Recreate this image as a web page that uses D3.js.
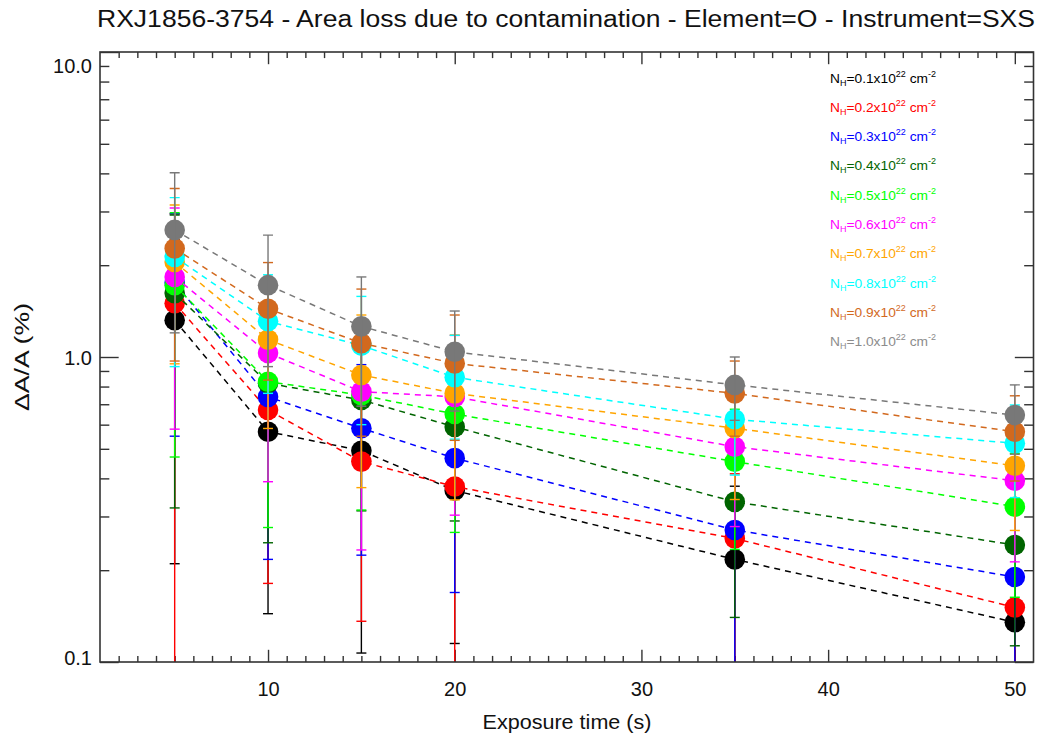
<!DOCTYPE html>
<html>
<head>
<meta charset="utf-8">
<script src="https://cdn.jsdelivr.net/npm/d3@7"></script>
<style>
    body { margin: 0; background: #fff; }
    svg { display: block; font-family: "Liberation Sans", Arial, Helvetica, sans-serif; }
</style>
</head>
<body>
<div class="c-chart"></div>
<script>
// exposure times (s)
var times = [5, 10, 15, 20, 35, 50];

// column densities, in units of 1e22 cm^-2
var nhValues = ["0.1", "0.2", "0.3", "0.4", "0.5", "0.6", "0.7", "0.8", "0.9", "1.0"];

// area loss dA/A (%), one array per N_H
var loss01 = [1.32, 0.569, 0.493, 0.365, 0.217, 0.135];
var loss02 = [1.50, 0.67, 0.454, 0.376, 0.254, 0.151];
var loss03 = [1.75, 0.74, 0.584, 0.466, 0.271, 0.19];
var loss04 = [1.62, 0.82, 0.723, 0.59, 0.335, 0.242];
var loss05 = [1.72, 0.83, 0.75, 0.65, 0.454, 0.323];
var loss06 = [1.83, 1.03, 0.77, 0.74, 0.508, 0.393];
var loss07 = [2.05, 1.14, 0.873, 0.76, 0.584, 0.44];
var loss08 = [2.13, 1.31, 1.09, 0.858, 0.625, 0.521];
var loss09 = [2.27, 1.44, 1.11, 0.953, 0.76, 0.569];
var loss10 = [2.61, 1.72, 1.26, 1.04, 0.81, 0.645];

// 1-sigma errors on the same points
var err01 = [1.11, 0.425, 0.386, 0.25, 0.16, 0.1];
var err02 = [1.45, 0.489, 0.318, 0.30, 0.16, 0.1];
var err03 = [1.2, 0.523, 0.36, 0.297, 0.19, 0.12];
var err04 = [1.30, 0.574, 0.41, 0.30, 0.195, 0.129];
var err05 = [1.25, 0.554, 0.435, 0.384, 0.22, 0.16];
var err06 = [1.25, 0.64, 0.537, 0.437, 0.23, 0.18];
var err07 = [1.1, 0.557, 0.5, 0.42, 0.243, 0.17];
var err08 = [1.2, 0.55, 0.49, 0.32, 0.215, 0.175];
var err09 = [1.30, 0.60, 0.56, 0.42, 0.21, 0.177];
var err10 = [1.41, 0.79, 0.57, 0.375, 0.19, 0.165];

var lossRows = [loss01, loss02, loss03, loss04, loss05, loss06, loss07, loss08, loss09, loss10];
var errRows = [err01, err02, err03, err04, err05, err06, err07, err08, err09, err10];

var colors = ["#000000", "#ff0000", "#0000ff", "#006400", "#00ff00",
              "#ff00ff", "#ffa500", "#00ffff", "#d2691e", "#787878"];

var titleText = "RXJ1856-3754 - Area loss due to contamination - Element=O - Instrument=SXS";
var xAxisLabel = "Exposure time (s)";
var yAxisLabel = "\u0394A/A (%)";

var width = 1038, height = 736;
var margin = { top: 52, right: 4.5, bottom: 74, left: 100 };
var x0 = margin.left, x1 = width - margin.right;
var y0 = margin.top, y1 = height - margin.bottom;

var xScale = d3.scaleLinear().domain([1, 51]).range([x0, x1]);
var yScale = d3.scaleLog().domain([0.1, 10]).range([y1, y0]);

var svg = d3.select(".c-chart")
    .append("svg")
    .attr("width", width)
    .attr("height", height);

// IDL style tick lengths: 2% of the plot size, minor ones half of that
var xTick = 0.02 * (y1 - y0);
var yTick = 0.02 * (x1 - x0);

var majorX = [10, 20, 30, 40, 50];
var minorX = d3.range(2, 51).filter(function (d) { return d % 10 !== 0; });
var majorY = [0.1, 1, 10];
var minorY = [];
[0.1, 1].forEach(function (dec) {
    d3.range(2, 10).forEach(function (k) { minorY.push(+(k * dec).toFixed(2)); });
});

function addAxis(axis, tx, ty) {
    var g = svg.append("g")
        .attr("transform", "translate(" + tx + "," + ty + ")")
        .call(axis);
    g.select(".domain").remove();
    g.attr("font-family", null).attr("font-size", 20).attr("color", "#333");
    g.selectAll(".tick line").attr("stroke-width", 1.4);
    g.selectAll(".tick text").attr("fill", "#111");
    return g;
}

// bottom
addAxis(d3.axisBottom(xScale).tickValues(minorX).tickSize(-xTick / 2).tickFormat(""), 0, y1);
addAxis(d3.axisBottom(xScale).tickValues(majorX).tickSize(-xTick).tickPadding(20)
    .tickFormat(d3.format("d")), 0, y1);
// top
addAxis(d3.axisTop(xScale).tickValues(minorX).tickSize(-xTick / 2).tickFormat(""), 0, y0);
addAxis(d3.axisTop(xScale).tickValues(majorX).tickSize(-xTick).tickFormat(""), 0, y0);
// left
addAxis(d3.axisLeft(yScale).tickValues(minorY).tickSize(-yTick / 2).tickFormat(""), x0, 0);
var yAxisG = addAxis(d3.axisLeft(yScale).tickValues(majorY).tickSize(-yTick).tickPadding(8)
    .tickFormat(d3.format(".1f")), x0, 0);
// IDL keeps the end labels inside the box
yAxisG.selectAll(".tick text").attr("dy", function (d) {
    if (d === 10) return "1.0em";
    if (d === 0.1) return "0.12em";
    return "0.36em";
});
// right
addAxis(d3.axisRight(yScale).tickValues(minorY).tickSize(-yTick / 2).tickFormat(""), x1, 0);
addAxis(d3.axisRight(yScale).tickValues(majorY).tickSize(-yTick).tickFormat(""), x1, 0);

svg.append("defs").append("clipPath").attr("id", "plot-clip")
    .append("rect")
    .attr("x", x0).attr("y", y0)
    .attr("width", x1 - x0).attr("height", y1 - y0);

var plot = svg.append("g").attr("clip-path", "url(#plot-clip)");

var line = d3.line()
    .x(function (d) { return xScale(d.t); })
    .y(function (d) { return yScale(d.v); });

lossRows.forEach(function (row, i) {
    var pts = times.map(function (t, j) {
        return { t: t, v: row[j], e: errRows[i][j] };
    });
    var g = plot.append("g").attr("class", "series");

    g.append("path")
        .datum(pts)
        .attr("d", line)
        .attr("fill", "none")
        .attr("stroke", colors[i])
        .attr("stroke-width", 1.5)
        .attr("stroke-dasharray", "6,5");

    g.selectAll("circle")
        .data(pts)
        .enter()
        .append("circle")
        .attr("cx", function (d) { return xScale(d.t); })
        .attr("cy", function (d) { return yScale(d.v); })
        .attr("r", 10.3)
        .attr("fill", colors[i]);

    var bars = g.selectAll(".err")
        .data(pts)
        .enter()
        .append("g")
        .attr("class", "err")
        .attr("stroke", colors[i])
        .attr("stroke-width", 1.4);

    bars.append("line")
        .attr("x1", function (d) { return xScale(d.t); })
        .attr("x2", function (d) { return xScale(d.t); })
        .attr("y1", function (d) { return yScale(d.v + d.e); })
        .attr("y2", function (d) { return d.v - d.e > 0.1 ? yScale(d.v - d.e) : y1 + 2; });

    bars.append("line")
        .attr("x1", function (d) { return xScale(d.t) - 5; })
        .attr("x2", function (d) { return xScale(d.t) + 5; })
        .attr("y1", function (d) { return yScale(d.v + d.e); })
        .attr("y2", function (d) { return yScale(d.v + d.e); });

    bars.filter(function (d) { return d.v - d.e > 0.1; })
        .append("line")
        .attr("x1", function (d) { return xScale(d.t) - 5; })
        .attr("x2", function (d) { return xScale(d.t) + 5; })
        .attr("y1", function (d) { return yScale(d.v - d.e); })
        .attr("y2", function (d) { return yScale(d.v - d.e); });
});

// frame
svg.append("rect")
    .attr("x", x0).attr("y", y0)
    .attr("width", x1 - x0).attr("height", y1 - y0)
    .attr("fill", "none")
    .attr("stroke", "#333")
    .attr("stroke-width", 1.6);

// legend
var legend = svg.append("g").attr("font-size", 13);
nhValues.forEach(function (nh, i) {
    var t = legend.append("text")
        .attr("x", 830)
        .attr("y", 82.5 + i * 29.3)
        .attr("fill", i === 9 ? "#8c8c8c" : colors[i])
        .attr("textLength", 106)
        .attr("lengthAdjust", "spacingAndGlyphs");
    t.append("tspan").text("N");
    t.append("tspan").attr("font-size", 8.5).attr("dy", 3).text("H");
    t.append("tspan").attr("dy", -3).text("=" + nh + "x10");
    t.append("tspan").attr("font-size", 8.5).attr("dy", -6).text("22");
    t.append("tspan").attr("dy", 6).text(" cm");
    t.append("tspan").attr("font-size", 8.5).attr("dy", -6).text("-2");
});

// title and axis labels
svg.append("text")
    .attr("x", 566)
    .attr("y", 27)
    .attr("text-anchor", "middle")
    .attr("font-size", 23)
    .attr("fill", "#111")
    .attr("textLength", 938)
    .attr("lengthAdjust", "spacingAndGlyphs")
    .text(titleText);

svg.append("text")
    .attr("x", 567)
    .attr("y", 729)
    .attr("text-anchor", "middle")
    .attr("font-size", 20)
    .attr("fill", "#111")
    .attr("textLength", 169)
    .attr("lengthAdjust", "spacingAndGlyphs")
    .text(xAxisLabel);

svg.append("text")
    .attr("transform", "translate(29," + yScale(1) + ") rotate(-90)")
    .attr("text-anchor", "middle")
    .attr("font-size", 20)
    .attr("fill", "#111")
    .attr("textLength", 108)
    .attr("lengthAdjust", "spacingAndGlyphs")
    .text(yAxisLabel);
</script>
</body>
</html>
